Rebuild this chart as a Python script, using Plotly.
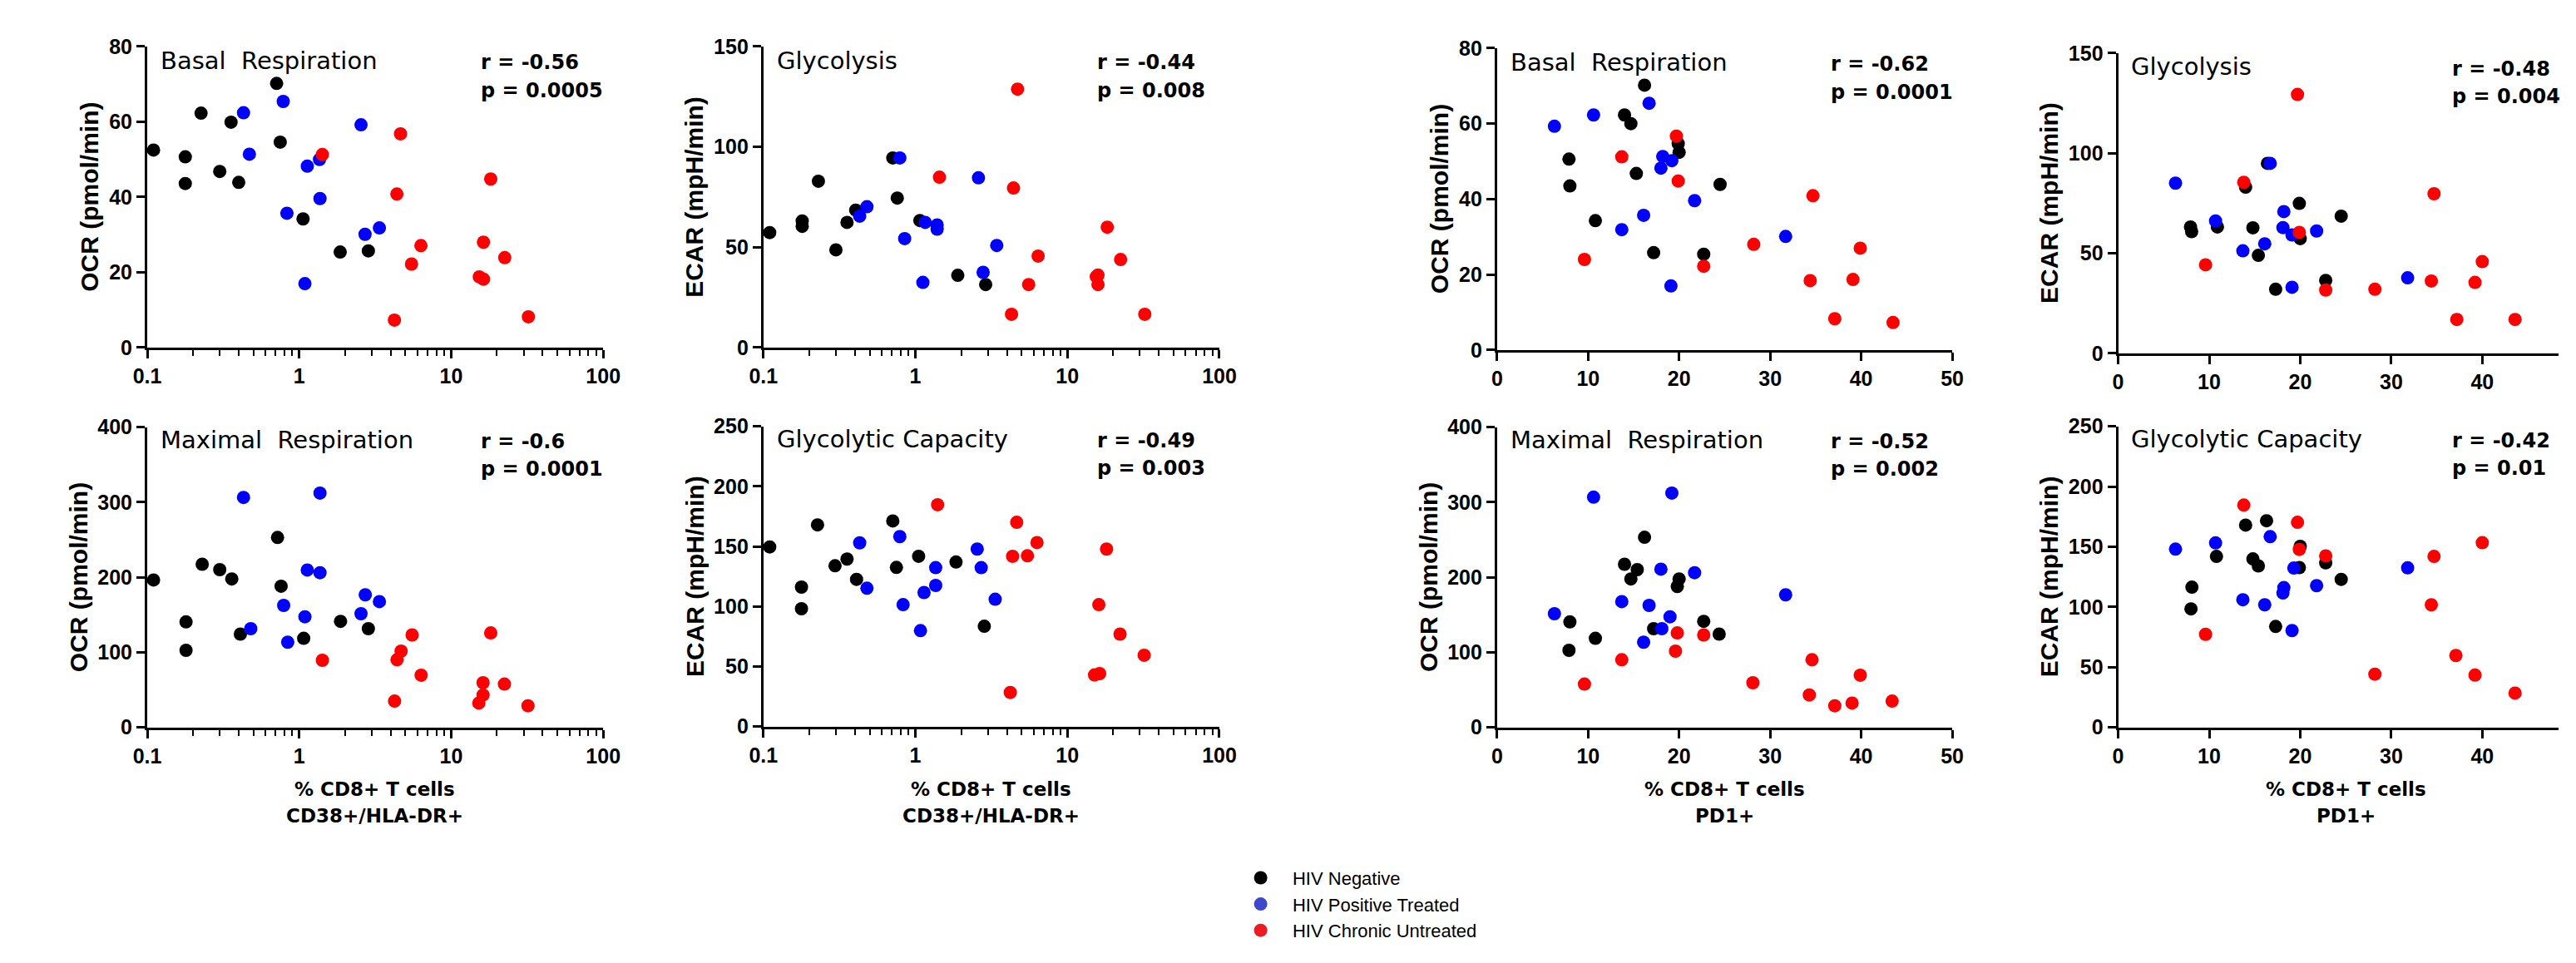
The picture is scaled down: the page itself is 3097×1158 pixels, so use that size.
import plotly.graph_objects as go

W, H = 3097, 1158

# ---------------- data ----------------
GROUPS = ["HIV Negative", "HIV Positive Treated", "HIV Chronic Untreated"]

# Panel 1: Basal Respiration vs % CD38+/HLA-DR+
P1_NEG_X = [0.11, 0.178, 0.178, 0.226, 0.30, 0.356, 0.40, 0.71, 0.75, 1.06, 1.86, 2.85]
P1_NEG_Y = [52.5, 50.7, 43.6, 62.3, 46.8, 59.9, 43.9, 70.2, 54.6, 34.2, 25.4, 25.7]
P1_POS_X = [0.43, 0.47, 0.785, 0.83, 1.13, 1.09, 1.36, 1.37, 2.55, 2.71, 3.37]
P1_POS_Y = [62.4, 51.4, 65.4, 35.7, 48.2, 17.0, 50.0, 39.6, 59.2, 30.1, 31.8]
P1_UNT_X = [1.42, 4.64, 4.39, 4.23, 5.48, 6.32, 18.2, 16.3, 15.3, 16.3, 22.5, 32.2]
P1_UNT_Y = [51.3, 56.8, 40.8, 7.3, 22.2, 27.1, 44.8, 28.0, 18.8, 18.2, 23.9, 8.2]

# Panel 2: Glycolysis vs % CD38+/HLA-DR+
P2_NEG_X = [0.11, 0.18, 0.18, 0.23, 0.30, 0.355, 0.405, 0.71, 0.76, 1.07, 1.9, 2.9]
P2_NEG_Y = [57.3, 63.1, 60.4, 82.9, 48.7, 62.4, 68.5, 94.5, 74.5, 63.3, 36.0, 31.4]
P2_POS_X = [0.48, 0.43, 0.79, 0.85, 1.16, 1.12, 1.39, 1.39, 2.6, 3.43, 2.79]
P2_POS_Y = [70.2, 65.5, 94.5, 54.3, 62.4, 32.5, 61.1, 59.0, 84.6, 50.9, 37.5]
P2_UNT_X = [1.44, 4.7, 4.42, 4.29, 5.56, 6.42, 18.3, 15.5, 15.9, 15.9, 22.4, 32.3]
P2_UNT_Y = [84.9, 128.8, 79.5, 16.6, 31.4, 45.6, 60.0, 35.4, 36.1, 31.4, 43.9, 16.6]

# Panel 3: Basal Respiration vs % PD1+
P3_NEG_X = [16.2, 14.0, 14.7, 7.9, 8.0, 15.3, 19.9, 20.0, 24.5, 10.8, 17.2, 22.7]
P3_NEG_Y = [70.2, 62.3, 60.0, 50.6, 43.5, 46.8, 54.7, 52.4, 43.9, 34.3, 25.8, 25.4]
P3_POS_X = [6.3, 10.6, 16.7, 18.2, 19.2, 18.0, 21.7, 16.1, 13.7, 19.1, 31.7]
P3_POS_Y = [59.3, 62.3, 65.4, 51.3, 50.2, 48.2, 39.6, 35.7, 31.9, 17.0, 30.1]
P3_UNT_X = [19.7, 13.7, 19.9, 9.6, 22.7, 28.2, 34.7, 39.9, 34.4, 39.1, 37.1, 43.5]
P3_UNT_Y = [56.7, 51.2, 44.8, 24.0, 22.2, 28.0, 40.9, 27.0, 18.4, 18.7, 8.3, 7.3]

# Panel 4: Glycolysis vs % PD1+
P4_NEG_X = [7.95, 8.07, 10.9, 14.0, 14.8, 15.4, 16.4, 19.9, 20.0, 24.5, 22.8, 17.3]
P4_NEG_Y = [63.1, 60.8, 63.1, 83.0, 62.7, 48.9, 94.9, 74.9, 57.3, 68.5, 36.4, 32.0]
P4_POS_X = [6.3, 10.7, 13.7, 16.1, 16.7, 18.2, 18.1, 19.1, 21.8, 19.1, 31.8]
P4_POS_Y = [85.0, 66.1, 51.2, 54.7, 94.9, 70.8, 62.8, 59.1, 61.1, 33.0, 37.7]
P4_UNT_X = [13.8, 19.7, 19.9, 9.6, 22.8, 28.2, 34.7, 34.4, 39.2, 40.0, 37.2, 43.6]
P4_UNT_Y = [85.4, 129.3, 60.4, 44.2, 31.6, 32.0, 79.7, 36.1, 35.4, 45.8, 16.9, 16.9]

# Panel 5: Maximal Respiration vs % CD38+/HLA-DR+
P5_NEG_X = [0.11, 0.18, 0.18, 0.23, 0.30, 0.36, 0.41, 0.72, 0.76, 1.07, 1.87, 2.85]
P5_NEG_Y = [196.4, 140.5, 102.7, 217.3, 210.1, 197.8, 124.3, 253.0, 188.1, 118.6, 141.3, 131.5]
P5_POS_X = [0.43, 0.48, 0.79, 0.84, 1.13, 1.09, 1.37, 1.37, 2.72, 2.55, 3.37]
P5_POS_Y = [306.3, 131.5, 162.5, 113.5, 209.7, 147.4, 312.1, 206.1, 176.6, 151.4, 167.6]
P5_UNT_X = [1.42, 5.53, 4.68, 4.40, 4.24, 6.34, 18.2, 16.2, 16.2, 15.2, 22.4, 32.0]
P5_UNT_Y = [89.4, 123.2, 101.6, 90.1, 35.0, 69.5, 125.8, 59.5, 43.2, 32.4, 57.7, 28.8]

# Panel 6: Glycolytic Capacity vs % CD38+/HLA-DR+
P6_NEG_X = [0.11, 0.178, 0.178, 0.227, 0.296, 0.355, 0.41, 0.71, 0.75, 1.05, 1.85, 2.84]
P6_NEG_Y = [149.6, 116.1, 98.1, 167.9, 133.9, 139.5, 122.6, 171.2, 132.5, 141.8, 137.0, 83.5]
P6_POS_X = [0.43, 0.48, 0.79, 0.83, 1.14, 1.08, 1.36, 1.36, 2.55, 2.71, 3.35]
P6_POS_Y = [153.0, 115.2, 158.2, 101.5, 111.6, 79.9, 132.3, 117.5, 147.8, 132.3, 106.0]
P6_UNT_X = [1.40, 4.64, 4.36, 5.46, 6.31, 4.21, 18.1, 16.1, 22.2, 32.0, 15.1, 16.3]
P6_UNT_Y = [184.7, 170.1, 141.8, 142.2, 153.2, 28.4, 147.8, 101.5, 77.0, 59.4, 43.0, 44.1]

# Panel 7: Maximal Respiration vs % PD1+
P7_NEG_X = [16.2, 14.0, 15.4, 14.7, 20.0, 19.8, 8.0, 7.9, 10.8, 17.2, 22.7, 24.4]
P7_NEG_Y = [253.3, 217.3, 210.1, 197.8, 197.8, 187.7, 140.5, 102.7, 118.6, 131.5, 141.3, 124.3]
P7_POS_X = [10.6, 19.2, 18.0, 21.7, 13.7, 16.7, 19.0, 18.1, 16.1, 6.3, 31.7]
P7_POS_Y = [306.7, 312.1, 210.8, 206.1, 167.6, 162.5, 147.4, 131.5, 113.5, 151.4, 176.6]
P7_UNT_X = [19.8, 22.7, 19.6, 13.7, 9.6, 28.1, 34.6, 39.9, 34.3, 37.1, 39.0, 43.4]
P7_UNT_Y = [125.8, 123.2, 101.6, 90.1, 57.7, 59.5, 90.1, 69.5, 43.2, 28.8, 32.4, 35.0]

# Panel 8: Glycolytic Capacity vs % PD1+
P8_NEG_X = [14.0, 16.3, 10.8, 14.8, 15.4, 20.0, 19.9, 22.8, 24.5, 8.1, 8.0, 17.3]
P8_NEG_Y = [168.0, 171.6, 142.0, 139.9, 134.1, 150.3, 132.7, 136.6, 122.9, 116.4, 98.4, 83.8]
P8_POS_X = [6.3, 10.7, 16.7, 19.3, 18.2, 18.1, 21.8, 13.7, 16.1, 19.1, 31.8]
P8_POS_Y = [148.0, 153.2, 158.4, 132.3, 116.1, 111.6, 117.7, 106.0, 101.8, 80.4, 132.5]
P8_UNT_X = [13.8, 19.7, 19.9, 22.8, 9.6, 34.7, 34.4, 40.0, 37.1, 28.2, 39.2, 43.6]
P8_UNT_Y = [184.6, 170.3, 147.8, 142.4, 77.3, 142.0, 101.8, 153.4, 59.7, 44.2, 43.4, 28.5]

TITLES = ["Basal&nbsp; Respiration", "Glycolysis", "Basal&nbsp; Respiration", "Glycolysis",
          "Maximal&nbsp; Respiration", "Glycolytic Capacity", "Maximal&nbsp; Respiration", "Glycolytic Capacity"]
R_TEXT = ["r = -0.56", "r = -0.44", "r = -0.62", "r = -0.48",
          "r = -0.6", "r = -0.49", "r = -0.52", "r = -0.42"]
P_TEXT = ["p = 0.0005", "p = 0.008", "p = 0.0001", "p = 0.004",
          "p = 0.0001", "p = 0.003", "p = 0.002", "p = 0.01"]
Y_TITLES = ["OCR (pmol/min)", "ECAR (mpH/min)", "OCR (pmol/min)", "ECAR (mpH/min)",
            "OCR (pmol/min)", "ECAR (mpH/min)", "OCR (pmol/min)", "ECAR (mpH/min)"]
Y_MAX = [80, 150, 80, 150, 400, 250, 400, 250]
Y_DTICK = [20, 50, 20, 50, 100, 50, 100, 50]
X_LOG = [True, True, False, False, True, True, False, False]
LOG_TICKS = [0.1, 1, 10, 100]
LOG_TICKTEXT = ["0.1", "1", "10", "100"]
LIN_TICKS = [0, 10, 20, 30, 40, 50]
X_TITLE_1 = "% CD8+ T cells"
X_TITLE_2 = ["CD38+/HLA-DR+", "CD38+/HLA-DR+", "PD1+", "PD1+"]

PANELS = [
    (P1_NEG_X, P1_NEG_Y, P1_POS_X, P1_POS_Y, P1_UNT_X, P1_UNT_Y),
    (P2_NEG_X, P2_NEG_Y, P2_POS_X, P2_POS_Y, P2_UNT_X, P2_UNT_Y),
    (P3_NEG_X, P3_NEG_Y, P3_POS_X, P3_POS_Y, P3_UNT_X, P3_UNT_Y),
    (P4_NEG_X, P4_NEG_Y, P4_POS_X, P4_POS_Y, P4_UNT_X, P4_UNT_Y),
    (P5_NEG_X, P5_NEG_Y, P5_POS_X, P5_POS_Y, P5_UNT_X, P5_UNT_Y),
    (P6_NEG_X, P6_NEG_Y, P6_POS_X, P6_POS_Y, P6_UNT_X, P6_UNT_Y),
    (P7_NEG_X, P7_NEG_Y, P7_POS_X, P7_POS_Y, P7_UNT_X, P7_UNT_Y),
    (P8_NEG_X, P8_NEG_Y, P8_POS_X, P8_POS_Y, P8_UNT_X, P8_UNT_Y),
]

# ---------------- layout geometry (pixels) ----------------
# (x_left, x_right, y_top, y_bottom) of each plot area
BOX = [
    (162, 717, 43, 414), (912, 1467, 43, 414), (1805, 2359, 45, 417), (2561, 3097, 51, 421),
    (162, 717, 512, 882), (912, 1467, 511, 881), (1805, 2359, 512, 882), (2561, 3097, 511, 882),
]
PX_PER_UNIT_LIN = (2359 - 1805) / 50.0

DATA_COLORS = ["#000000", "#0000FF", "#FF0000"]
LEGEND_COLORS = ["#000000", "#3F48CC", "#ED1C24"]

TICK_FONT = dict(family="Liberation Sans, Arial, sans-serif", size=25, color="black", weight="bold")
BOLD_WIDE = "DejaVu Sans, Verdana, sans-serif"


def fx(p):
    return p / W


def fy(p):
    return 1 - p / H


fig = go.Figure()
layout = dict(
    width=W, height=H,
    margin=dict(l=0, r=0, t=0, b=0),
    paper_bgcolor="white", plot_bgcolor="white",
    showlegend=True,
    annotations=[],
)

for i, (panel, box) in enumerate(zip(PANELS, BOX)):
    n = i + 1
    xl, xr, yt, yb = box
    xa = "x" if n == 1 else f"x{n}"
    ya = "y" if n == 1 else f"y{n}"
    pts = [(panel[0], panel[1]), (panel[2], panel[3]), (panel[4], panel[5])]
    for g, (xs, ys) in enumerate(pts):
        fig.add_trace(go.Scatter(
            x=xs, y=ys, mode="markers", xaxis=xa, yaxis=ya,
            marker=dict(color=DATA_COLORS[g], size=16, line=dict(width=0)),
            cliponaxis=False, showlegend=False, name=GROUPS[g],
        ))
    common = dict(showline=True, linecolor="black", linewidth=3, ticks="outside",
                  tickwidth=3, tickcolor="black", ticklen=10, showgrid=False,
                  zeroline=False, tickfont=TICK_FONT, fixedrange=True)
    xaxis = dict(common, domain=[fx(xl), fx(xr)], anchor=ya)
    if X_LOG[i]:
        xaxis.update(type="log", range=[-1, 2], tickmode="array",
                     tickvals=LOG_TICKS, ticktext=LOG_TICKTEXT,
                     minor=dict(ticks="outside", ticklen=7, tickwidth=2,
                                tickcolor="black", dtick="D1", showgrid=False))
    else:
        xmax = (xr - xl) / PX_PER_UNIT_LIN
        xaxis.update(type="linear", range=[0, xmax], tickmode="array",
                     tickvals=LIN_TICKS, ticktext=[str(v) for v in LIN_TICKS])
    yaxis = dict(common, domain=[fy(yb), fy(yt)], anchor=xa,
                 range=[0, Y_MAX[i]], tickmode="linear", tick0=0, dtick=Y_DTICK[i])
    layout["xaxis" if n == 1 else f"xaxis{n}"] = xaxis
    layout["yaxis" if n == 1 else f"yaxis{n}"] = yaxis

    top_row = i < 4
    shift = yt - (43 if top_row else 512)
    # panel title
    layout["annotations"].append(dict(
        text=TITLES[i], xref="paper", yref="paper", x=fx(xl + 14),
        y=fy((60 if top_row else 528) + shift), xanchor="left", yanchor="middle",
        showarrow=False, font=dict(family=BOLD_WIDE, size=29, color="black")))
    # r and p
    ry = (63 if top_row else 530) + shift
    for txt, yy in ((R_TEXT[i], ry), (P_TEXT[i], ry + 34)):
        layout["annotations"].append(dict(
            text=txt, xref="paper", yref="paper", x=fx(xl + 404), y=fy(yy),
            xanchor="left", yanchor="middle", showarrow=False,
            font=dict(family=BOLD_WIDE, size=24, color="black", weight="bold")))
    # y title
    off = 70 if Y_MAX[i] < 100 else 84
    layout["annotations"].append(dict(
        text=Y_TITLES[i], xref="paper", yref="paper", x=fx(xl - off),
        y=fy((yt + yb) / 2), xanchor="center", yanchor="middle", textangle=-90,
        showarrow=False,
        font=dict(family="Liberation Sans, Arial, sans-serif", size=30, color="black", weight="bold")))
    # x titles below the bottom row
    if not top_row:
        cx = xl + 277
        for txt, yy in ((X_TITLE_1, 958), (X_TITLE_2[i - 4], 991)):
            layout["annotations"].append(dict(
                text=txt, xref="paper", yref="paper", x=fx(cx), y=fy(yy),
                xanchor="center", yanchor="middle", showarrow=False,
                font=dict(family=BOLD_WIDE, size=23, color="black", weight="bold")))

# legend entries
for g in range(3):
    fig.add_trace(go.Scatter(
        x=[None], y=[None], mode="markers", name="&nbsp;&nbsp;&nbsp;" + GROUPS[g],
        marker=dict(color=LEGEND_COLORS[g], size=23), showlegend=True))

layout["legend"] = dict(
    x=fx(1497), y=fy(1046), xanchor="left", yanchor="top",
    font=dict(family="Liberation Sans, Arial, sans-serif", size=22, color="black"),
    bgcolor="rgba(0,0,0,0)", itemsizing="trace", tracegroupgap=0,
)

fig.update_layout(**layout)
fig.write_html("out.html", config={"displayModeBar": False},
               post_script="document.body.style.margin='0';document.body.style.overflow='hidden';")
